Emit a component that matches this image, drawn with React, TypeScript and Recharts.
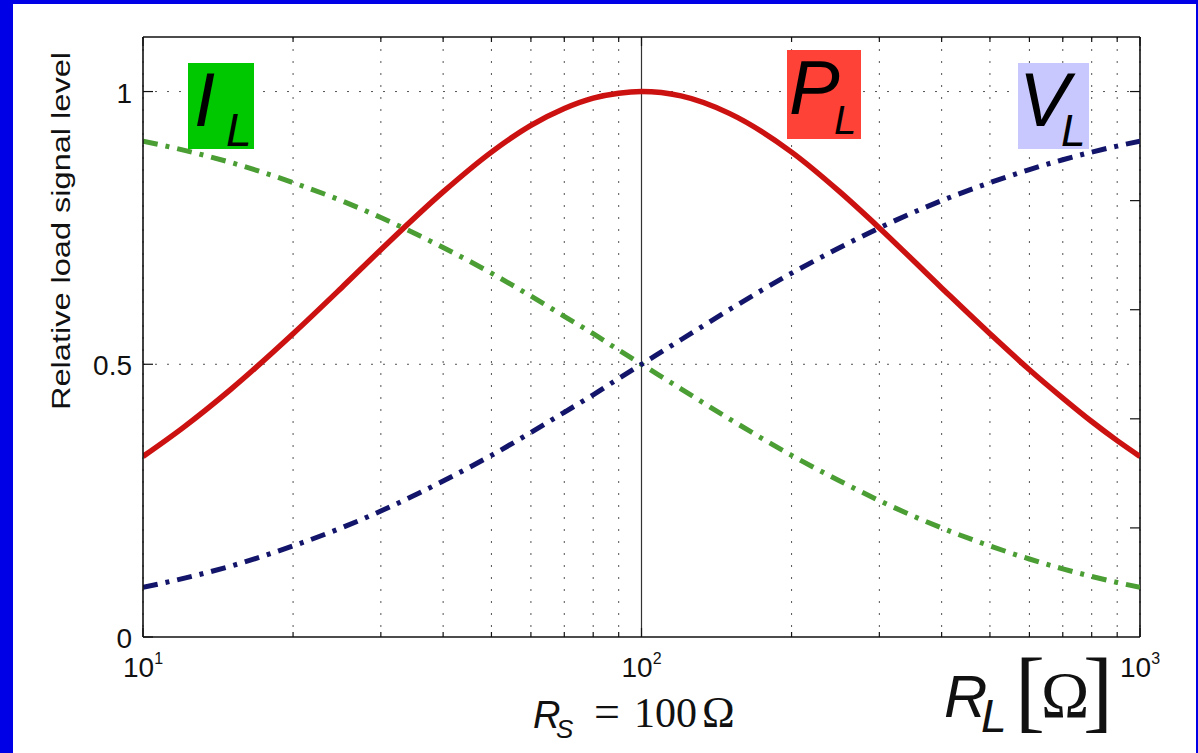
import React from 'react'
import {
  LineChart,
  Line,
  XAxis,
  YAxis,
  CartesianGrid,
  ReferenceLine,
} from 'recharts'

// load resistance R_L in ohms (log axis)
const loadOhms = [10, 12, 15, 20, 25, 30, 40, 50, 60, 70, 80, 90, 100, 120, 150, 200, 250, 300, 400, 500, 600, 700, 800, 900, 1000]
// relative signal levels at the load, source resistance 100 ohm
const powerLevel = [0.331, 0.383, 0.454, 0.556, 0.64, 0.71, 0.816, 0.889, 0.938, 0.969, 0.988, 0.997, 1.0, 0.992, 0.96, 0.889, 0.816, 0.75, 0.64, 0.556, 0.49, 0.438, 0.395, 0.36, 0.331]
const voltageLevel = [0.091, 0.107, 0.13, 0.167, 0.2, 0.231, 0.286, 0.333, 0.375, 0.412, 0.444, 0.474, 0.5, 0.545, 0.6, 0.667, 0.714, 0.75, 0.8, 0.833, 0.857, 0.875, 0.889, 0.9, 0.909]
const currentLevel = [0.909, 0.893, 0.87, 0.833, 0.8, 0.769, 0.714, 0.667, 0.625, 0.588, 0.556, 0.526, 0.5, 0.455, 0.4, 0.333, 0.286, 0.25, 0.2, 0.167, 0.143, 0.125, 0.111, 0.1, 0.091]

const xTicks = [10, 20, 30, 40, 50, 60, 70, 80, 90, 100, 200, 300, 400, 500, 600, 700, 800, 900, 1000]
const decadeLabels: Record<number, string> = { 10: '1', 100: '2', 1000: '3' }
const yTicksLeft = [0, 0.5, 1]
const yTicksRight = [0.2, 0.4, 0.6, 0.8, 1]
const yTicksAll = [0, 0.2, 0.4, 0.5, 0.6, 0.8, 1]
const yGridValues = [0.5, 1]

const W = 1198
const H = 753
const PLOT = { left: 143, right: 1140, top: 37, bottom: 637 }
const SANS = 'Liberation Sans, Arial, Helvetica, sans-serif'
const SERIF = 'Liberation Serif, Times New Roman, serif'
const INK = '#111'

const data = loadOhms.map((r, i) => ({
  r,
  power: powerLevel[i],
  voltage: voltageLevel[i],
  current: currentLevel[i],
}))

// bottom labels plus inward tick marks on the bottom and top edges
const XTick = ({ x, payload }: any) => {
  const exp = decadeLabels[payload.value]
  const len = exp ? 9 : 5
  return (
    <g>
      <line x1={x} x2={x} y1={PLOT.bottom} y2={PLOT.bottom - len} stroke={INK} strokeWidth={1.2} />
      <line x1={x} x2={x} y1={PLOT.top} y2={PLOT.top + len} stroke={INK} strokeWidth={1.2} />
      {exp && (
        <text x={x} y={PLOT.bottom + 40} textAnchor="middle" fontFamily={SANS} fontSize={28} fill={INK}>
          10<tspan dy={-13} fontSize={16}>{exp}</tspan>
        </text>
      )}
    </g>
  )
}

// left labels/marks for 0, 0.5, 1 and right-edge marks every 0.2
const YTick = ({ y, payload }: any) => {
  const v = payload.value
  const left = yTicksLeft.includes(v)
  const right = yTicksRight.includes(v)
  return (
    <g>
      {left && <line x1={PLOT.left} x2={PLOT.left + 10} y1={y} y2={y} stroke={INK} strokeWidth={1.2} />}
      {right && <line x1={PLOT.right} x2={PLOT.right - 10} y1={y} y2={y} stroke={INK} strokeWidth={1.2} />}
      {left && (
        <text x={132} y={y + 11} textAnchor="end" fontFamily={SANS} fontSize={28} fill={INK}>
          {String(v)}
        </text>
      )}
    </g>
  )
}

const dashDot = '15 8 4 8'

export default function App() {
  return (
    <div style={{ position: 'absolute', left: 0, top: 0, width: W, height: H, background: '#fff', overflow: 'hidden' }}>
      <LineChart
        width={W}
        height={H}
        data={data}
        margin={{ top: PLOT.top, right: W - PLOT.right, bottom: 0, left: 0 }}
      >
        <CartesianGrid horizontal={false} stroke="#555" strokeDasharray="2 10" strokeWidth={1} />
        {yGridValues.map(v => (
          <ReferenceLine key={v} y={v} stroke="#555" strokeDasharray="2 10" strokeWidth={1} />
        ))}
        <XAxis
          dataKey="r"
          type="number"
          scale="log"
          domain={[10, 1000]}
          allowDataOverflow
          ticks={xTicks}
          interval={0}
          height={H - PLOT.bottom}
          tickLine={false}
          tickSize={0}
          tick={<XTick />}
          axisLine={{ stroke: INK, strokeWidth: 1.6 }}
        />
        <YAxis
          type="number"
          domain={[0, 1.1]}
          allowDataOverflow
          ticks={yTicksAll}
          interval={0}
          width={PLOT.left}
          tickLine={false}
          tick={<YTick />}
          axisLine={{ stroke: INK, strokeWidth: 1.6 }}
        />
        <ReferenceLine x={100} stroke="#333" strokeWidth={1.2} />
        {/* top and right edges of the box */}
        <ReferenceLine y={1.1} stroke={INK} strokeWidth={1.6} />
        <ReferenceLine x={1000} stroke={INK} strokeWidth={1.6} />
        <Line
          dataKey="power"
          type="monotone"
          stroke="#cc1111"
          strokeWidth={5.5}
          dot={false}
          isAnimationActive={false}
        />
        <Line
          dataKey="current"
          type="monotone"
          stroke="#4a9e34"
          strokeWidth={5}
          strokeDasharray={dashDot}
          dot={false}
          isAnimationActive={false}
        />
        <Line
          dataKey="voltage"
          type="monotone"
          stroke="#13156b"
          strokeWidth={5}
          strokeDasharray={dashDot}
          dot={false}
          isAnimationActive={false}
        />
      </LineChart>

      {/* titles and curve tags */}
      <svg width={W} height={H} style={{ position: 'absolute', left: 0, top: 0, pointerEvents: 'none' }}>
        <text
          transform="translate(70 231) rotate(-90)"
          textAnchor="middle"
          fontFamily={SANS}
          fontSize={25}
          textLength={358}
          lengthAdjust="spacingAndGlyphs"
          fill={INK}
        >
          Relative load signal level
        </text>

        <rect x={188} y={63} width={66} height={86} fill="#00c800" />
        <text x={194} y={126} fontFamily={SANS} fontStyle="italic" fontSize={76} fill="#000">
          I<tspan x={226} y={146} fontSize={46}>L</tspan>
        </text>

        <rect x={787} y={50} width={74} height={89} fill="#ff4238" />
        <text x={789} y={114} fontFamily={SANS} fontStyle="italic" fontSize={76} fill="#000">
          P<tspan x={834} y={134} fontSize={40}>L</tspan>
        </text>

        <rect x={1018} y={63} width={71} height={86} fill="#c8c8ff" />
        <text x={1019} y={126} fontFamily={SANS} fontStyle="italic" fontSize={76} fill="#000">
          V<tspan x={1061} y={146} fontSize={44}>L</tspan>
        </text>

        <text x={533} y={728} fontFamily={SANS} fontStyle="italic" fontSize={38} fill={INK}>
          R<tspan x={556} y={738} fontSize={26}>S</tspan>
          <tspan x={594} y={727} fontFamily={SERIF} fontStyle="normal" fontSize={46}>=</tspan>
          <tspan x={634} y={727} fontFamily={SERIF} fontStyle="normal" fontSize={42}>100</tspan>
          <tspan x={702} y={727} fontFamily={SERIF} fontStyle="normal" fontSize={44}>Ω</tspan>
        </text>

        <text x={944} y={717} fontFamily={SANS} fontStyle="italic" fontSize={60} fill={INK}>
          R<tspan x={981} y={732} fontSize={46}>L</tspan>
          <tspan x={1015} y={721} fontFamily={SERIF} fontStyle="normal" fontSize={90}>[</tspan>
          <tspan x={1041} y={717} fontFamily={SERIF} fontStyle="normal" fontSize={65}>Ω</tspan>
          <tspan x={1083} y={721} fontFamily={SERIF} fontStyle="normal" fontSize={90}>]</tspan>
        </text>
      </svg>

      {/* slide frame */}
      <div style={{ position: 'absolute', left: 0, top: 0, width: 13, height: H, background: '#0000e6' }} />
      <div style={{ position: 'absolute', left: 0, top: 0, width: W, height: 4, background: '#0000e6' }} />
      <div style={{ position: 'absolute', right: 0, top: 0, width: 2, height: H, background: '#0000e6' }} />
    </div>
  )
}
